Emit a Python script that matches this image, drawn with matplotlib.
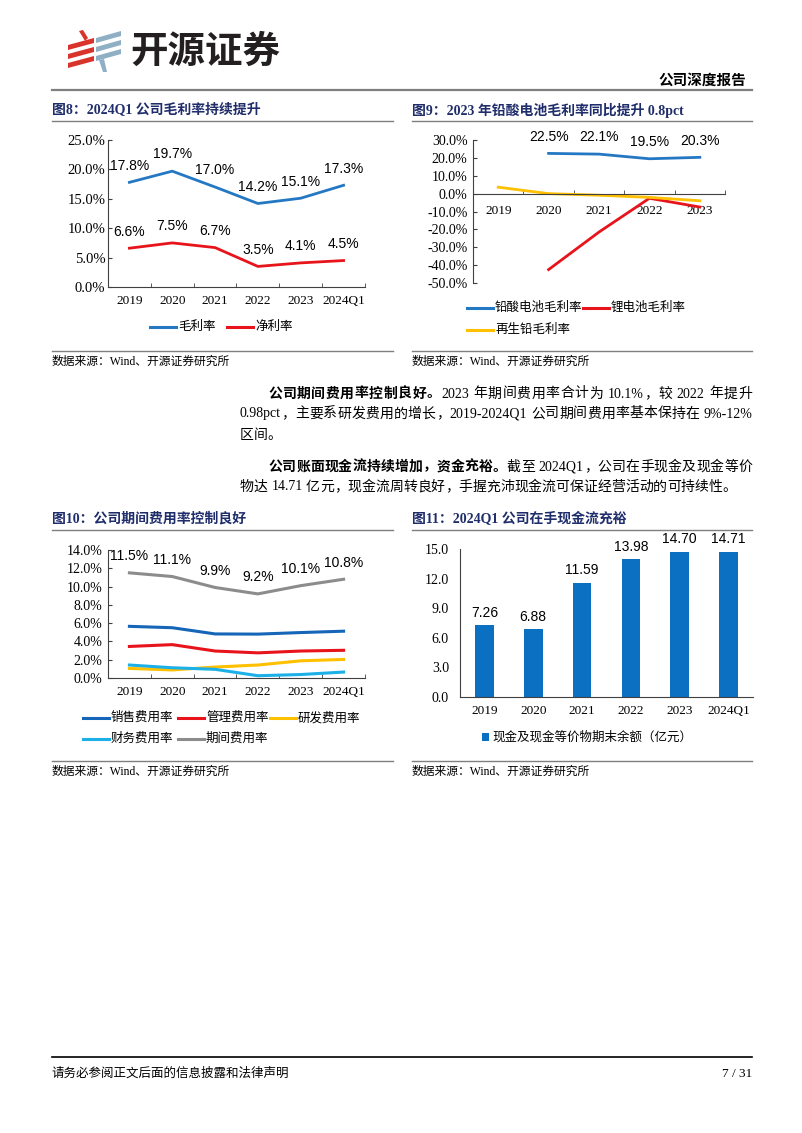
import matplotlib
matplotlib.use("Agg")
import matplotlib.pyplot as plt
from matplotlib.patches import Polygon, Rectangle
from matplotlib.lines import Line2D
from matplotlib.ticker import FuncFormatter, FixedLocator
import numpy as np

plt.rcParams['font.family'] = ['Liberation Serif', 'Noto Sans CJK SC']
plt.rcParams['axes.unicode_minus'] = False

# ---------------- data ----------------
years6 = ['2019', '2020', '2021', '2022', '2023', '2024Q1']
gross_margin = [17.8, 19.7, 17.0, 14.2, 15.1, 17.3]
net_margin = [6.6, 7.5, 6.7, 3.5, 4.1, 4.5]

years5 = ['2019', '2020', '2021', '2022', '2023']
lead_acid = [np.nan, 22.5, 22.1, 19.5, 20.3]
lithium = [np.nan, -42.5, -21.5, -2.6, -7.5]
recycled_lead = [3.6, 0.0, -0.9, -2.1, -4.0]

period_exp = [11.5, 11.1, 9.9, 9.2, 10.1, 10.8]
sales_exp = [5.65, 5.5, 4.82, 4.8, 4.97, 5.12]
admin_exp = [3.45, 3.65, 2.95, 2.75, 2.95, 3.03]
rd_exp = [1.05, 0.88, 1.2, 1.42, 1.88, 2.03]
fin_exp = [1.42, 1.12, 0.95, 0.25, 0.38, 0.65]

cash = [7.26, 6.88, 11.59, 13.98, 14.70, 14.71]

W, H = 802, 1133
fig = plt.figure(figsize=(W / 100, H / 100), dpi=100)
fig.patch.set_facecolor('white')

page = fig.add_axes([0, 0, 1, 1], zorder=0)
page.set_xlim(0, W)
page.set_ylim(H, 0)
page.axis('off')
page.patch.set_alpha(0)

CJK_SERIF = ['Liberation Serif', 'Noto Sans CJK SC']
SANS = ['Liberation Sans', 'Noto Sans CJK SC']
NAVY = '#1F2D6B'
BLUE = '#2478C3'
RED = '#E8141B'
YELLOW = '#FFC000'
DBLUE = '#1565B8'
LBLUE = '#1CB0E8'
GRAY = '#8C8C8C'
BAR = '#0B6FC2'


def rect(l, t, r, b):
    return [l / W, 1 - b / H, (r - l) / W, (b - t) / H]


def ptext(x, y, s, **kw):
    kw.setdefault('family', CJK_SERIF)
    kw.setdefault('va', 'center')
    return page.text(x, y, s, **kw)


def hline(x0, x1, y, color='#7F7F7F', lw=1.0):
    page.add_line(Line2D([x0, x1], [y, y], color=color, lw=lw))


# ---------------- logo / header ----------------
red_c = '#D9342B'
gb_c = '#8FAFC4'
for yc in [40, 49, 58]:
    page.add_patch(Polygon([(68, yc + 5), (94, yc - 2), (94, yc + 3), (68, yc + 10)],
                           closed=True, color=red_c, lw=0))
page.add_patch(Polygon([(79, 31), (83, 30), (88, 38), (85, 41)], closed=True, color=red_c, lw=0))
for yc in [33, 42, 51]:
    page.add_patch(Polygon([(96, yc + 5), (121, yc - 2), (121, yc + 3), (96, yc + 10)],
                           closed=True, color=gb_c, lw=0))
page.add_patch(Polygon([(99, 60), (104, 59), (107, 72), (103, 72)], closed=True, color=gb_c, lw=0))
ptext(130, 51, '开源证券', fontsize=27, fontweight='bold', color='#231F20',
      family=['Noto Sans CJK SC'])

ptext(746, 81, '公司深度报告', fontsize=10.5, fontweight='bold', ha='right')
hline(52, 752, 90, color='#7F7F7F', lw=1.6)

# ---------------- titles & sources ----------------
ptext(52, 110, '图8：2024Q1 公司毛利率持续提升', fontsize=10, fontweight='bold', color=NAVY)
ptext(412, 110, '图9：2023 年铅酸电池毛利率同比提升 0.8pct', fontsize=10, fontweight='bold', color=NAVY)
hline(52, 393, 121)
hline(412, 752, 121)
hline(52, 393, 351)
hline(412, 752, 351)
ptext(52, 362, '数据来源：Wind、开源证券研究所', fontsize=8.5)
ptext(412, 362, '数据来源：Wind、开源证券研究所', fontsize=8.5)

ptext(52, 519, '图10：公司期间费用率控制良好', fontsize=10, fontweight='bold', color=NAVY)
ptext(412, 519, '图11：2024Q1 公司在手现金流充裕', fontsize=10, fontweight='bold', color=NAVY)
hline(52, 393, 530)
hline(412, 752, 530)
hline(52, 393, 761)
hline(412, 752, 761)
ptext(52, 772, '数据来源：Wind、开源证券研究所', fontsize=8.5)
ptext(412, 772, '数据来源：Wind、开源证券研究所', fontsize=8.5)

# ---------------- body text (justified) ----------------
fig.canvas.draw()
renderer = fig.canvas.get_renderer()


def tokens(s):
    out = []
    buf = ''
    for ch in s:
        if ord(ch) < 128 and ch != ' ':
            buf += ch
        else:
            if buf:
                out.append(buf)
                buf = ''
            out.append(ch)
    if buf:
        out.append(buf)
    return out


def text_width(s, fs, weight):
    t = ptext(0, -100, s, fontsize=fs, fontweight=weight)
    w = t.get_window_extent(renderer=renderer).width
    t.remove()
    return w


def para_line(x0, x1, y, bold_part, rest, fs=10, justify=True):
    items = [(tk, 'bold') for tk in tokens(bold_part)] + [(tk, 'normal') for tk in tokens(rest)]
    widths = []
    for tk, wt in items:
        if tk == ' ':
            widths.append(text_width('a a', fs, wt) - text_width('aa', fs, wt))
        else:
            widths.append(text_width(tk, fs, wt))
    total = sum(widths)
    gap = (x1 - x0 - total) / (len(items) - 1) if justify and len(items) > 1 else 0.0
    x = x0
    for (tk, wt), w in zip(items, widths):
        if tk != ' ':
            ptext(x, y, tk, fontsize=fs, fontweight=wt)
        x += w + gap


para_line(268, 752, 394, '公司期间费用率控制良好。', '2023 年期间费用率合计为 10.1%，较 2022 年提升')
para_line(240, 752, 414, '', '0.98pct，主要系研发费用的增长，2019-2024Q1 公司期间费用率基本保持在 9%-12%')
para_line(240, 752, 435, '', '区间。', justify=False)
para_line(268, 752, 467, '公司账面现金流持续增加，资金充裕。', '截至 2024Q1，公司在手现金及现金等价')
para_line(240, 752, 487, '', '物达 14.71 亿元，现金流周转良好，手握充沛现金流可保证经营活动的可持续性。', justify=False)

# footer
hline(52, 752, 1057, color='#000000', lw=1.2)
ptext(52, 1074, '请务必参阅正文后面的信息披露和法律声明', fontsize=9)
ptext(752, 1074, '7 / 31', fontsize=9.5, ha='right')


# ---------------- helpers for charts ----------------
def style_axes(ax, n, ylab=9.5, ypad=3):
    for s in ['top', 'right']:
        ax.spines[s].set_visible(False)
    for s in ['left', 'bottom']:
        ax.spines[s].set_color('#404040')
        ax.spines[s].set_linewidth(0.8)
    ax.set_xlim(-0.5, n - 0.5)
    ax.xaxis.set_major_locator(FixedLocator(range(n)))
    ax.xaxis.set_minor_locator(FixedLocator([i + 0.5 for i in range(-1, n)]))
    ax.tick_params(axis='x', which='major', length=0, pad=6, labelsize=9.5)
    ax.tick_params(axis='x', which='minor', length=3, direction='in', color='#404040')
    ax.tick_params(axis='y', length=3, direction='in', pad=ypad, labelsize=ylab, color='#404040')
    ax.patch.set_alpha(0)


def pct_fmt(v, p):
    return f'{v:.1f}%'


def label_line(ax, vals, fmt='{:.1f}%'):
    for i, v in enumerate(vals):
        if np.isnan(v):
            continue
        ax.annotate(fmt.format(v), (i, v), xytext=(0, 12), textcoords='offset points',
                    ha='center', va='center', fontsize=10, family=SANS, color='#000000')


def legend_line(x, y, color, label, lw=2.2, length=26):
    page.add_line(Line2D([x, x + length], [y, y], color=color, lw=lw))
    ptext(x + length + 2, y, label, fontsize=9)


# ---------------- Figure 8 ----------------
ax8 = fig.add_axes(rect(108, 140, 365, 287), zorder=2)
style_axes(ax8, 6, ylab=10.5, ypad=2)
x6 = np.arange(6)
ax8.plot(x6, gross_margin, color=BLUE, lw=2)
ax8.plot(x6, net_margin, color=RED, lw=2)
ax8.set_ylim(0, 25)
ax8.set_yticks(np.arange(0, 26, 5))
ax8.yaxis.set_major_formatter(FuncFormatter(pct_fmt))
ax8.set_xticklabels(years6)
label_line(ax8, gross_margin)
label_line(ax8, net_margin)
legend_line(150, 327, BLUE, '毛利率')
legend_line(227, 327, RED, '净利率')

# ---------------- Figure 9 ----------------
ax9 = fig.add_axes(rect(473, 140, 725, 283), zorder=2)
style_axes(ax9, 5, ylab=10, ypad=4)
x5 = np.arange(5)
ax9.plot(x5, lead_acid, color=BLUE, lw=2)
ax9.plot(x5, lithium, color=RED, lw=2)
ax9.plot(x5, recycled_lead, color=YELLOW, lw=2)
ax9.set_ylim(-50, 30)
ax9.set_yticks(np.arange(-50, 31, 10))
ax9.yaxis.set_major_formatter(FuncFormatter(pct_fmt))
ax9.spines['bottom'].set_position(('data', 0))
ax9.set_xticklabels(years5)
ax9.tick_params(axis='x', which='major', pad=8)
label_line(ax9, lead_acid)
legend_line(467, 308, BLUE, '铅酸电池毛利率')
legend_line(583, 308, RED, '锂电池毛利率')
legend_line(467, 330, YELLOW, '再生铅毛利率')

# ---------------- Figure 10 ----------------
ax10 = fig.add_axes(rect(108, 550, 365, 678), zorder=2)
style_axes(ax10, 6, ylab=10, ypad=4)
ax10.plot(x6, period_exp, color=GRAY, lw=2.2)
ax10.plot(x6, sales_exp, color=DBLUE, lw=2.2)
ax10.plot(x6, admin_exp, color=RED, lw=2.2)
ax10.plot(x6, rd_exp, color=YELLOW, lw=2.2)
ax10.plot(x6, fin_exp, color=LBLUE, lw=2.2)
ax10.set_ylim(0, 14)
ax10.set_yticks(np.arange(0, 15, 2))
ax10.yaxis.set_major_formatter(FuncFormatter(pct_fmt))
ax10.set_xticklabels(years6)
label_line(ax10, period_exp)
legend_line(83, 718, DBLUE, '销售费用率')
legend_line(178, 718, RED, '管理费用率')
legend_line(270, 718, YELLOW, '研发费用率')
legend_line(83, 739, LBLUE, '财务费用率')
legend_line(178, 739, GRAY, '期间费用率')

# ---------------- Figure 11 ----------------
ax11 = fig.add_axes(rect(460, 549, 753, 697), zorder=2)
style_axes(ax11, 6)
ax11.bar(x6, cash, width=0.38, color=BAR)
ax11.set_ylim(0, 15)
ax11.set_yticks(np.arange(0, 15.1, 3))
ax11.yaxis.set_major_formatter(FuncFormatter(lambda v, p: f'{v:.1f}'))
ax11.set_xticklabels(years6)
ax11.tick_params(axis='x', which='minor', length=0)
ax11.tick_params(axis='y', length=0, pad=8, labelsize=10)
for i, v in enumerate(cash):
    ax11.annotate(f'{v:.2f}', (i, v), xytext=(0, 9), textcoords='offset points',
                  ha='center', va='center', fontsize=10, family=SANS, annotation_clip=False)
page.add_patch(Rectangle((482, 733), 7, 8, color=BAR, lw=0))
ptext(492, 737, '现金及现金等价物期末余额（亿元）', fontsize=9)

fig.savefig('out.png', dpi=100, facecolor='white')
